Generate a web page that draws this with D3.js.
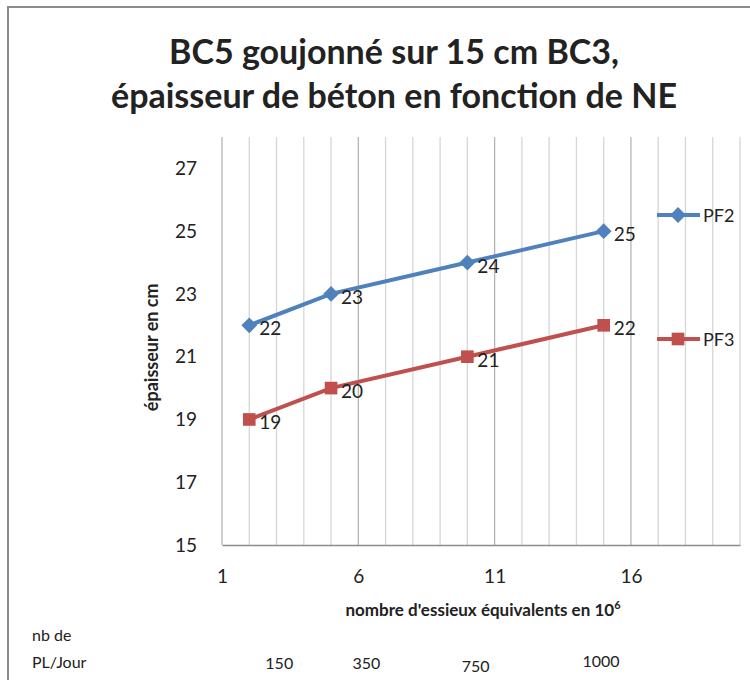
<!DOCTYPE html>
<html>
<head>
<meta charset="utf-8">
<script src="https://cdn.jsdelivr.net/npm/d3@7"></script>
<style>
  body { margin: 0; background: #fff; }
  text { font-family: Lato, "Open Sans", sans-serif; fill: #222; }
</style>
</head>
<body>
<div class="chart"></div>
<script>
// data
const ne = [2, 5, 10, 15];
const pf2 = [22, 23, 24, 25];
const pf3 = [19, 20, 21, 22];
const seriesNames = ["PF2", "PF3"];
const xTicks = [1, 6, 11, 16];
const yTicks = [15, 17, 19, 21, 23, 25, 27];
const plJour = ["150", "350", "750", "1000"];
const plJourAt = [3.1, 6.3, 10.3, 14.9]; // where the labels sit, in axis units

const W = 750, H = 680;
const margin = {top: 137, right: 10, bottom: 135, left: 222},
  width = W - margin.left - margin.right,
  height = H - margin.top - margin.bottom;

const blue = "#4f81bd", red = "#c0504d";

const svg = d3.select(".chart").append("svg")
  .attr("width", W)
  .attr("height", H);

// outer frame
svg.append("rect")
  .attr("x", 8).attr("y", 7)
  .attr("width", W + 10).attr("height", H + 10)
  .attr("fill", "none")
  .attr("stroke", "#8c8c8c")
  .attr("stroke-width", 2);

// title
const title = svg.append("text")
  .attr("text-anchor", "middle")
  .attr("font-size", "34px")
  .attr("font-weight", "bold");
title.append("tspan").attr("x", 394).attr("y", 64).text("BC5 goujonné sur 15 cm BC3,");
title.append("tspan").attr("x", 394).attr("y", 108).text("épaisseur de béton en fonction de NE");

const g = svg.append("g")
  .attr("transform", "translate(" + margin.left + "," + margin.top + ")");

const x = d3.scaleLinear().domain([1, 20]).range([0, width]);
const y = d3.scaleLinear().domain([15, 28]).range([height, 0]);

// vertical gridlines, one per unit, major ones a bit darker
g.append("g")
  .selectAll("line")
  .data(d3.range(1, 21))
  .join("line")
  .attr("x1", d => x(d)).attr("x2", d => x(d))
  .attr("y1", 0).attr("y2", height)
  .attr("stroke", d => xTicks.includes(d) ? "#b5b5b5" : "#d6d6d6")
  .attr("stroke-width", 1.3);

// x axis
const xaxis = g.append("g")
  .attr("transform", "translate(0," + height + ")")
  .call(d3.axisBottom(x).tickValues(xTicks).tickSize(0).tickPadding(25));
xaxis.select(".domain").attr("stroke", "#8c8c8c").attr("stroke-width", 1.3);
xaxis.selectAll("text")
  .attr("font-family", "Lato, sans-serif")
  .attr("font-size", "19px")
  .attr("fill", "#222");

// y axis (labels only)
const yaxis = g.append("g")
  .call(d3.axisLeft(y).tickValues(yTicks).tickSize(0).tickPadding(25));
yaxis.select(".domain").remove();
yaxis.selectAll("text")
  .attr("font-family", "Lato, sans-serif")
  .attr("font-size", "19px")
  .attr("fill", "#222");

// axis titles
svg.append("text")
  .attr("transform", "translate(158," + (margin.top + y(21.3)) + ") rotate(-90)")
  .attr("text-anchor", "middle")
  .attr("font-size", "18px")
  .attr("font-weight", "bold")
  .text("épaisseur en cm");

const xt = svg.append("text")
  .attr("x", 483).attr("y", 616)
  .attr("text-anchor", "middle")
  .attr("font-size", "17px")
  .attr("font-weight", "bold")
  .text("nombre d'essieux équivalents en 10");
xt.append("tspan").attr("dy", -7).attr("font-size", "11px").text("6");

// series
const series = [
  {name: seriesNames[0], values: pf2, color: blue, shape: d3.symbolSquare, size: 125, rot: 45},
  {name: seriesNames[1], values: pf3, color: red, shape: d3.symbolSquare, size: 160, rot: 0}
];

const line = d3.line()
  .x((d, i) => x(ne[i]))
  .y(d => y(d));

series.forEach(s => {
  g.append("path")
    .datum(s.values)
    .attr("fill", "none")
    .attr("stroke", s.color)
    .attr("stroke-width", 4)
    .attr("d", line);

  g.selectAll(null)
    .data(s.values)
    .join("path")
    .attr("transform", (d, i) => "translate(" + x(ne[i]) + "," + y(d) + ") rotate(" + s.rot + ")")
    .attr("d", d3.symbol().type(s.shape).size(s.size))
    .attr("fill", s.color);

  g.selectAll(null)
    .data(s.values)
    .join("text")
    .attr("x", (d, i) => x(ne[i]) + 10)
    .attr("y", d => y(d) + 10)
    .attr("font-size", "19px")
    .text(d => d);
});

// legend
const legend = svg.append("g");
series.forEach((s, i) => {
  const ly = i === 0 ? 215 : 339;
  legend.append("line")
    .attr("x1", 657).attr("x2", 700)
    .attr("y1", ly).attr("y2", ly)
    .attr("stroke", s.color).attr("stroke-width", 4);
  legend.append("path")
    .attr("transform", "translate(678," + ly + ") rotate(" + s.rot + ")")
    .attr("d", d3.symbol().type(s.shape).size(s.size))
    .attr("fill", s.color);
  legend.append("text")
    .attr("x", 703).attr("y", ly + 7)
    .attr("font-size", "18px")
    .text(s.name);
});

// PL/Jour annotation under the chart
svg.append("text").attr("x", 32).attr("y", 641).attr("font-size", "16px").text("nb de");
svg.append("text").attr("x", 32).attr("y", 668).attr("font-size", "16px").text("PL/Jour");

svg.selectAll(".pl")
  .data(plJour)
  .join("text")
  .attr("class", "pl")
  .attr("x", (d, i) => margin.left + x(plJourAt[i]))
  .attr("y", (d, i) => i === 2 ? 672 : (i === 3 ? 667 : 669))
  .attr("text-anchor", "middle")
  .attr("font-size", "16px")
  .text(d => d);
</script>
</body>
</html>
